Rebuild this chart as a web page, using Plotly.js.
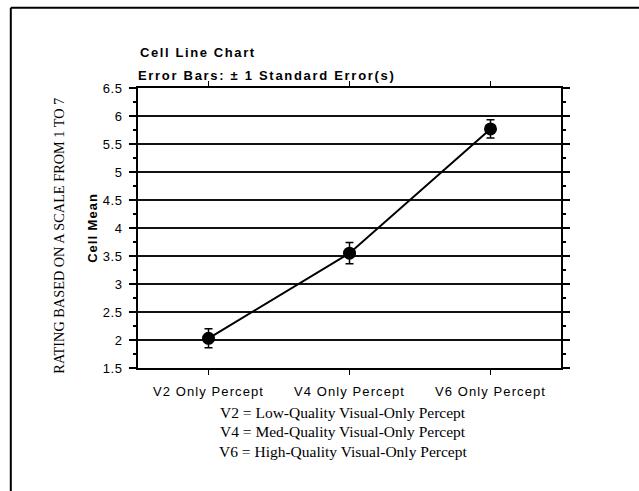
<!DOCTYPE html>
<html>
<head>
<meta charset="utf-8">
<script src="https://cdn.plot.ly/plotly-3.0.1.min.js"></script>
<style>
html,body{margin:0;padding:0;background:#fff;}
#chart{width:639px;height:491px;}
#chart .xtick text{letter-spacing:1.1px;}
#chart .ytick text{letter-spacing:0.5px;}
#chart .ytitle{letter-spacing:1px;}
#chart g.annotation[data-index="0"] text{letter-spacing:1.6px;}
#chart g.annotation[data-index="1"] text{letter-spacing:1.7px;}
</style>
</head>
<body>
<div id="chart"></div>
<script>
const categories = ["V2 Only Percept", "V4 Only Percept", "V6 Only Percept"];
const cellMeans = [2.03, 3.55, 5.77];
const stdErrors = [0.17, 0.19, 0.165];
const yTicks = [1.5, 2, 2.5, 3, 3.5, 4, 4.5, 5, 5.5, 6, 6.5];
const yTickLabels = ["1.5", "2", "2.5", "3", "3.5", "4", "4.5", "5", "5.5", "6", "6.5"];
const captionLines = [
  "V2 = Low-Quality Visual-Only Percept",
  "V4 = Med-Quality Visual-Only Percept",
  "V6 = High-Quality Visual-Only Percept"
];

const W = 639, H = 491;
const L = 137.5, R = 561.5, T = 87.5, B = 368.5;
const pw = R - L, ph = B - T;
const px = x => (x - L) / pw;
const py = y => (B - y) / ph;

const trace = {
  type: "scatter",
  mode: "lines+markers",
  x: categories,
  y: cellMeans,
  line: {color: "#000", width: 2},
  marker: {color: "#000", size: 13},
  error_y: {type: "data", array: stdErrors, visible: true, color: "#000", thickness: 1.5, width: 4},
  cliponaxis: false,
  showlegend: false
};

const annotations = [
  {text: "<b>Cell Line Chart</b>", x: px(198), y: py(52), xref: "paper", yref: "paper",
   xanchor: "center", yanchor: "middle", showarrow: false,
   font: {family: "Arial, Liberation Sans, sans-serif", size: 13, color: "#000"}},
  {text: "<b>Error Bars: ± 1 Standard Error(s)</b>", x: px(266.5), y: py(74.5), xref: "paper", yref: "paper",
   xanchor: "center", yanchor: "middle", showarrow: false,
   font: {family: "Arial, Liberation Sans, sans-serif", size: 13, color: "#000"}},
  {text: "RATING BASED ON A SCALE FROM 1 TO 7", x: px(58), y: py(236), xref: "paper", yref: "paper",
   xanchor: "center", yanchor: "middle", showarrow: false, textangle: -90,
   font: {family: "Liberation Serif, Times New Roman, serif", size: 14.3, color: "#000"}}
];
captionLines.forEach((t, i) => {
  annotations.push({text: t, x: px(343), y: py([413.3, 432.7, 452.3][i]), xref: "paper", yref: "paper",
    xanchor: "center", yanchor: "middle", showarrow: false,
    font: {family: "Liberation Serif, Times New Roman, serif", size: 15.5, color: "#000"}});
});

const layout = {
  width: W, height: H,
  margin: {l: L, r: W - R, t: T, b: H - B, pad: 0},
  paper_bgcolor: "#fff",
  plot_bgcolor: "#fff",
  font: {family: "Arial, Liberation Sans, sans-serif", color: "#000", size: 12},
  xaxis: {
    type: "category",
    range: [-0.5, 2.5],
    showline: true, linecolor: "#000", linewidth: 2,
    mirror: "ticks",
    ticks: "outside", ticklen: 5, tickwidth: 1.5, tickcolor: "#000",
    showgrid: false, zeroline: false,
    tickfont: {family: "Arial, Liberation Sans, sans-serif", size: 13, color: "#000"},
    ticklabelstandoff: 5
  },
  yaxis: {
    range: [1.5, 6.5],
    tickmode: "array", tickvals: yTicks, ticktext: yTickLabels,
    showline: true, linecolor: "#000", linewidth: 2,
    mirror: "ticks",
    ticks: "outside", ticklen: 7, tickwidth: 1.5, tickcolor: "#000",
    showgrid: true, gridcolor: "#111", gridwidth: 1.5,
    zeroline: false,
    minor: {dtick: 0.25, tick0: 1.5, ticks: "outside", ticklen: 3, tickwidth: 1.5, tickcolor: "#000", showgrid: false},
    tickfont: {family: "Arial, Liberation Sans, sans-serif", size: 13, color: "#000"},
    ticklabelstandoff: 4,
    title: {text: "<b>Cell Mean</b>", standoff: 4,
            font: {family: "Arial, Liberation Sans, sans-serif", size: 13, color: "#000"}}
  },
  annotations: annotations,
  shapes: [
    {type: "line", xref: "paper", yref: "paper", x0: px(10), x1: px(700), y0: py(7), y1: py(7),
     line: {color: "#000", width: 2}},
    {type: "line", xref: "paper", yref: "paper", x0: px(10), x1: px(10), y0: py(7), y1: py(520),
     line: {color: "#000", width: 2}}
  ]
};

Plotly.newPlot("chart", [trace], layout, {displayModeBar: false, staticPlot: true});
</script>
</body>
</html>
